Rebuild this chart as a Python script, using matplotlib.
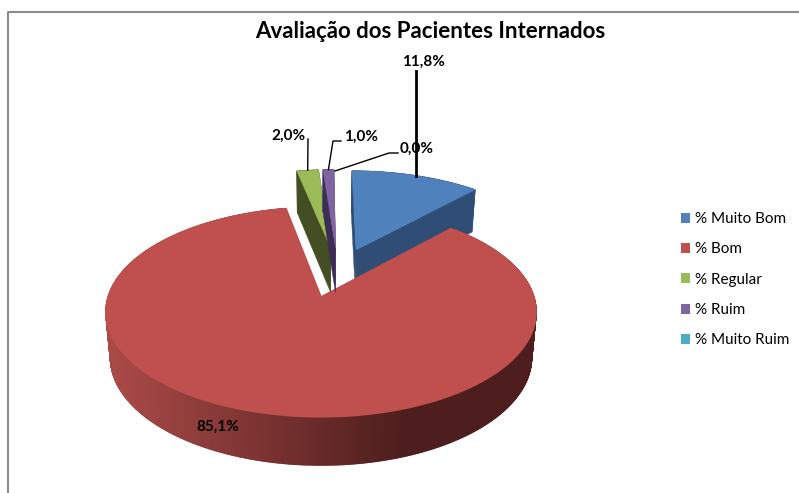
import matplotlib
matplotlib.use("Agg")
import matplotlib.pyplot as plt
from matplotlib.patches import Patch
import numpy as np

plt.rcParams['font.family'] = ['Lato', 'DejaVu Sans']

title = "Avaliação dos Pacientes Internados"
categories = ["% Muito Bom", "% Bom", "% Regular", "% Ruim", "% Muito Ruim"]
values = [11.8, 85.1, 2.0, 1.0, 0.0]
value_labels = ["11,8%", "85,1%", "2,0%", "1,0%", "0,0%"]
top_colors = ["#4F81BD", "#C0504D", "#9BBB59", "#8064A2", "#4BACC6"]
wall_colors = ["#2F4D75", "#4D1E1D", "#434F22", "#3C2D55", "#2A6475"]

# projection of the tilted pie, in pixels of the picture
X0, Y0 = 321, 297
A, B, K = 212.8, 102.6, 0.143
EXPLODE = 0.26
SMALL_SHIFT = 0.011


def project(x, y):
	d = 1 + K * y
	return X0 + A * x / d, Y0 - B * y / d


def lower(sx, sy):
	# same point on the underside of the pie
	return X0 + 0.979 * (sx - X0), sy + 45.2 + 0.0265 * (sy - Y0)


def red_shade(sx):
	f = np.clip((sx - 110) / 295.0, 0, 1)
	c0 = np.array([170, 74, 71]) / 255
	c1 = np.array([77, 30, 29]) / 255
	return tuple(c0 + (c1 - c0) * f)


fracs = np.array(values) / sum(values)
ends = np.cumsum(fracs) * 2 * np.pi
starts = ends - fracs * 2 * np.pi
mids = (starts + ends) / 2
# the big slice stays at the origin of the projection
off_x = EXPLODE * (np.sin(mids) - np.sin(mids[1])) + SMALL_SHIFT
off_y = EXPLODE * (np.cos(mids) - np.cos(mids[1]))
off_x[1] = 0

fig = plt.figure(figsize=(7.99, 4.93), dpi=100)
ax = fig.add_axes([0, 0, 1, 1])
ax.set_xlim(0, 799)
ax.set_ylim(493, 0)
ax.axis('off')


def rim(i, t):
	return project(off_x[i] + np.sin(t), off_y[i] + np.cos(t))


def draw_slice(i):
	if fracs[i] == 0:
		return
	t = np.linspace(starts[i], ends[i], max(3, int(np.degrees(ends[i] - starts[i]) * 3)))
	sx, sy = rim(i, t)
	ax0, ay0 = project(off_x[i], off_y[i])
	bx, by = lower(sx, sy)
	lx0, ly0 = lower(ax0, ay0)
	big = i == 1

	# first cut face
	ax.fill([ax0, sx[0], bx[0], lx0], [ay0, sy[0], by[0], ly0], color=wall_colors[i], lw=0.3, zorder=i + 1)
	# outer wall, one quad per step
	for j in range(len(t) - 1):
		col = red_shade(sx[j]) if big else wall_colors[i]
		ax.fill([sx[j], sx[j + 1], bx[j + 1], bx[j]], [sy[j], sy[j + 1], by[j + 1], by[j]], color=col, lw=1 if big else 0.5, zorder=i + 1)
	# second cut face
	ax.fill([ax0, sx[-1], bx[-1], lx0], [ay0, sy[-1], by[-1], ly0], color=wall_colors[i], lw=0.3, zorder=i + 1)
	# top
	ax.fill(np.r_[ax0, sx], np.r_[ay0, sy], color=top_colors[i], lw=1.2 if big else 0.3, zorder=i + 1.5)


# far slices first, the big one covers what is behind it
for i in [2, 3, 0, 1]:
	draw_slice(i)

# leaders
bx, by = rim(0, mids[0])
ax.plot([bx, bx], [by, 71], color='black', lw=2, zorder=10)
gx, gy = rim(2, mids[2])
ax.plot([gx, 308], [gy, 139], color='black', lw=1, zorder=10)
px, py = rim(3, mids[3])
ax.plot([px, 333, 341], [py, 141, 141], color='black', lw=1, zorder=10)
ax.plot([335, 389, 398], [171, 153, 153], color='black', lw=1, zorder=10)

label_pos = [(423, 61.5), (218, 427), (288, 136), (361, 137), (417, 149)]
for lab, (lx, ly) in zip(value_labels, label_pos):
	ax.text(lx, ly, lab, ha='center', va='center', fontsize=11, fontweight='bold', color='black', zorder=11)

ax.text(430, 31.5, title, ha='center', va='center', fontsize=16, fontweight='bold', color='black')

# chart frame
ax.plot([7.5, 7.5, 799], [493, 11.5, 11.5], color='#8C8C8C', lw=1.5, zorder=0)

handles = [Patch(facecolor=c, label=n) for c, n in zip(top_colors, categories)]
ax.legend(handles=handles, loc='upper left', bbox_to_anchor=(680.5 / 799, 1 - 212 / 493), frameon=False,
	fontsize=11, handlelength=0.65, handleheight=0.65, handletextpad=0.33, labelspacing=1.07, borderpad=0, borderaxespad=0)

fig.savefig("out.png", dpi=100)
